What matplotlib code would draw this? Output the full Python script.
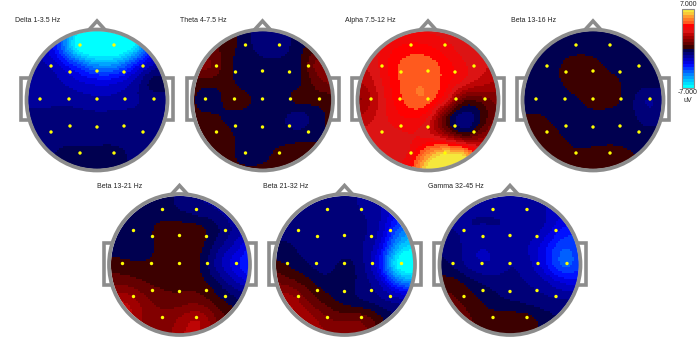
import matplotlib
matplotlib.use('Agg')
import matplotlib.pyplot as plt
from matplotlib.colors import ListedColormap, BoundaryNorm
from matplotlib.patches import Circle, Polygon, Rectangle
import numpy as np

plt.rcParams['font.family'] = ['Liberation Sans', 'DejaVu Sans']

W, H = 700, 346
GRAY = '#8c8c8c'

titles = ['Delta 1-3.5 Hz', 'Theta 4-7.5 Hz', 'Alpha 7.5-12 Hz', 'Beta 13-16 Hz',
          'Beta 13-21 Hz', 'Beta 21-32 Hz', 'Gamma 32-45 Hz']

# electrode sites, px from head centre
elec_x = [-17, 17, -46, -27, 0, 27, 46, -57, -28, 0, 28, 57, -46, -27, 0, 27, 46, -17, 17]
elec_y = [-54, -54, -33, -27, -28, -27, -33, 0, 0, 0, 0, 0, 33, 27, 28, 27, 33, 54, 54]

# scalp values (uV) read on a 9x9 lattice, top row first
delta = [[-1.5, -2.0, -3.5, -6.2, -8.0, -8.0, -7.5, -5.0, -2.2],
         [-1.5, -2.0, -3.8, -7.2, -8.0, -8.0, -6.6, -3.6, -1.5],
         [-1.3, -1.5, -2.4, -3.8, -5.0, -4.9, -3.4, -1.8, -1.0],
         [-1.2, -1.2, -1.6, -2.1, -2.4, -2.3, -1.6, -0.4, -0.3],
         [-1.2, -1.2, -1.2, -1.3, -1.5, -1.4, -1.2, -0.9, -0.9],
         [-0.9, -0.9, -0.9, -0.9, -0.9, -0.9, -0.9, -0.9, -0.9],
         [-0.8, -0.8, -0.8, -0.8, -0.8, -0.8, -0.8, -0.8, -0.8],
         [-0.8, -0.8, -0.4, -0.3, -0.3, -0.3, -0.7, -0.9, -0.9],
         [-0.6, -0.6, -0.3, -0.3, -0.3, -0.3, -0.6, -0.9, -0.9]]
theta = [[0.5, 0.5, 0.3, -0.3, -1.0, -0.9, -0.2, 0.3, 0.5],
         [0.7, 0.6, 0.3, -0.3, -0.8, -0.8, -0.2, 0.4, 1.2],
         [1.2, 1.2, 0.2, -0.3, -0.4, -0.4, -0.1, 1.3, 1.5],
         [0.4, 0.3, 0.2, -0.3, -0.3, -0.3, -0.1, 0.8, 1.3],
         [0.2, -0.5, 0.2, 0.2, -0.3, -0.2, 0.2, 0.2, 0.2],
         [0.2, 0.2, -0.1, -0.3, -0.3, -0.4, -0.9, -0.2, 0.2],
         [0.2, 0.2, 0.2, -0.3, -0.3, -0.3, -0.2, -0.1, 0.2],
         [0.2, 0.2, 0.2, -0.3, -0.2, 0.2, 0.2, 0.2, 0.2],
         [0.2, 0.2, 0.2, 0.2, 0.2, 0.2, 0.2, 0.2, 0.2]]
alpha = [[3.0, 3.0, 3.0, 3.2, 3.1, 2.9, 2.8, 2.6, 2.4],
         [2.9, 3.0, 3.6, 3.9, 3.8, 3.4, 2.9, 2.6, 2.4],
         [2.6, 3.0, 4.0, 4.6, 4.6, 4.0, 3.3, 2.8, 2.5],
         [2.0, 2.7, 3.9, 4.7, 4.7, 4.0, 3.1, 2.4, 2.1],
         [1.4, 2.4, 3.7, 4.6, 4.6, 3.1, 0.7, 0.8, 1.3],
         [2.2, 2.7, 3.4, 3.8, 3.2, 0.5, -0.9, 0.1, 1.5],
         [2.8, 2.9, 3.0, 3.2, 3.0, 2.0, 0.6, 1.4, 2.2],
         [2.9, 2.6, 2.9, 3.4, 5.4, 6.6, 6.2, 3.4, 2.8],
         [3.0, 3.0, 3.2, 4.2, 7.0, 7.5, 7.0, 4.2, 3.0]]
beta1316 = [[-0.3, -0.3, -0.3, -0.3, -0.3, -0.3, -0.3, -0.3, -0.3],
            [-0.3, -0.3, -0.3, -0.3, -0.3, -0.3, -0.3, -0.3, -0.3],
            [-0.3, -0.3, -0.1, 0.3, 0.2, -0.2, -0.3, -0.3, -0.3],
            [-0.3, -0.3, -0.1, 0.3, 0.3, 0.2, -0.2, -0.3, -0.3],
            [-0.3, -0.3, -0.3, -0.1, 0.3, 0.2, -0.3, -1.1, -0.8],
            [0.1, 0.1, -0.2, -0.3, -0.3, -0.3, -0.3, -0.8, -0.6],
            [0.3, 0.3, 0.1, -0.2, -0.3, -0.3, -0.3, -0.3, -0.3],
            [0.3, 0.3, 0.3, 0.1, 0.2, 0.3, 0.1, -0.3, -0.3],
            [0.3, 0.3, 0.3, 0.3, 0.3, 0.3, 0.3, 0.1, -0.3]]
beta1321 = [[-0.5, -0.5, -0.4, -0.4, -0.6, -1.0, -1.4, -1.8, -2.2],
            [-0.4, -0.4, -0.4, -0.4, -0.5, -0.8, -1.0, -1.6, -2.2],
            [-0.4, -0.4, -0.3, 0.3, 0.3, 0.2, -0.4, -1.2, -2.0],
            [-0.3, -0.3, -0.3, 0.2, 0.3, 0.2, -0.8, -1.8, -2.8],
            [0.3, 0.2, 0.1, 0.3, 0.4, 0.1, -1.2, -2.4, -3.3],
            [0.9, 0.9, 0.6, 0.4, 0.4, 0.3, -0.4, -1.4, -2.2],
            [1.9, 2.1, 1.3, 0.9, 0.8, 0.9, 0.3, -0.3, -0.8],
            [2.0, 2.3, 1.5, 1.2, 1.7, 2.1, 1.1, 0.3, -0.2],
            [1.6, 1.6, 1.2, 1.2, 2.0, 2.2, 1.3, 0.6, 0.1]]
beta2132 = [[-0.9, -0.9, -0.9, -0.9, -1.0, -1.2, -1.8, -2.3, -2.6],
            [-0.8, -0.9, -0.9, -0.9, -1.0, -1.1, -1.6, -2.6, -3.2],
            [-0.6, -0.7, -0.9, -0.9, -0.9, -1.0, -1.8, -3.9, -4.7],
            [-0.4, -0.5, -0.8, -0.9, -0.9, -1.1, -2.4, -5.4, -6.2],
            [0.3, -0.1, -0.5, -0.8, -0.3, -1.0, -3.0, -6.9, -7.2],
            [1.1, 0.8, 0.2, -0.3, -0.3, -0.8, -1.8, -3.9, -4.6],
            [1.9, 2.0, 1.0, 0.3, -0.2, -0.5, -0.9, -1.3, -1.6],
            [2.1, 2.3, 1.9, 1.2, 0.9, 0.9, 0.1, -0.6, -0.8],
            [2.1, 2.3, 2.1, 1.7, 1.7, 1.3, 0.5, -0.3, -0.6]]
gamma = [[-1.1, -1.1, -1.1, -1.1, -1.1, -1.3, -1.7, -2.0, -2.3],
         [-1.1, -1.1, -1.1, -1.1, -1.1, -1.2, -1.6, -2.1, -2.5],
         [-1.0, -1.1, -1.1, -1.1, -1.1, -1.2, -1.8, -2.8, -3.0],
         [-0.6, -0.9, -1.5, -1.5, -1.1, -1.6, -2.6, -3.7, -3.2],
         [-0.3, -0.7, -1.4, -1.5, -1.1, -1.4, -2.6, -3.9, -3.2],
         [0.3, 0.2, -0.4, -0.7, -0.9, -1.1, -1.5, -2.2, -2.3],
         [0.8, 0.6, 0.2, -0.3, -0.5, -0.7, -0.9, -1.0, -1.1],
         [1.3, 0.9, 0.5, 0.3, 0.3, 0.2, -0.3, -0.6, -0.7],
         [1.2, 1.0, 0.5, 0.4, 0.3, 0.2, -0.3, -0.6, -0.7]]
panels = [delta, theta, alpha, beta1316, beta1321, beta2132, gamma]

centres = [(97, 99), (262.5, 99), (428, 99), (593, 99),
           (179.5, 263.5), (344.5, 263.5), (510, 263.5)]
title_x = [15, 180.5, 345, 511, 97, 263, 428]
title_y = [21, 21, 21, 21, 186, 186, 186]

lattice = np.arange(-72, 73, 18)
band_colors = ['#00ffff', '#00e0ff', '#00c4ff', '#00a4ff', '#0084ff', '#0060ff', '#0038ff',
               '#0010ff', '#0000e0', '#0000c0', '#00009a', '#000078', '#000050',
               '#3c0000', '#640000', '#820000', '#a00000', '#be0505', '#dc1414',
               '#f00808', '#ff0000', '#ff5a1e', '#ff7a28', '#ff9c30', '#f8c838', '#f5e83c']
band_edges = np.linspace(-7, 7, len(band_colors) + 1)
cmap = ListedColormap(band_colors)
norm = BoundaryNorm(band_edges, cmap.N)


def smooth(values, gx, gy):
    # thin plate spline through the lattice values
    lx, ly = np.meshgrid(lattice, lattice)
    px, py, v = lx.ravel() / 72.0, ly.ravel() / 72.0, np.array(values, float).ravel()
    def kernel(a):
        return np.where(a > 0, a ** 2 * np.log(a + 1e-12), 0)
    d = np.hypot(px[:, None] - px[None, :], py[:, None] - py[None, :])
    A = kernel(d) + np.eye(len(v)) * 1e-3
    P = np.column_stack([np.ones_like(px), px, py])
    M = np.block([[A, P], [P.T, np.zeros((3, 3))]])
    w = np.linalg.solve(M, np.concatenate([v, np.zeros(3)]))
    qx, qy = gx.ravel() / 72.0, gy.ravel() / 72.0
    dq = np.hypot(qx[:, None] - px[None, :], qy[:, None] - py[None, :])
    out = kernel(dq) @ w[:len(v)] + w[len(v)] + w[len(v) + 1] * qx + w[len(v) + 2] * qy
    return out.reshape(gx.shape)


fig = plt.figure(figsize=(W / 100, H / 100), dpi=100)
ax = fig.add_axes([0, 0, 1, 1])
ax.set_xlim(0, W)
ax.set_ylim(H, 0)
ax.axis('off')

R = 69
edge = np.arange(-72, 73, 2)
mid = (edge[:-1] + edge[1:]) / 2
gx, gy = np.meshgrid(mid, mid)

for vals, (cx, cy), name, tx, ty in zip(panels, centres, titles, title_x, title_y):
    hy = cy + 1
    # ears
    ax.add_patch(Rectangle((cx - 76, cy - 21), 11, 42, fc='white', ec=GRAY, lw=2.6, zorder=1))
    ax.add_patch(Rectangle((cx + 65, cy - 21), 11, 42, fc='white', ec=GRAY, lw=2.6, zorder=1))
    # nose
    ax.add_patch(Polygon([(cx - 10, hy - 68), (cx, hy - 79), (cx + 10, hy - 68)], closed=True,
                         fc='white', ec=GRAY, lw=2.6, joinstyle='miter', zorder=1))
    ax.add_patch(Circle((cx, hy), R + 1, fc='white', ec='none', zorder=2))
    m = ax.pcolormesh(edge + cx, edge + hy, smooth(vals, gx, gy), cmap=cmap, norm=norm,
                      shading='flat', antialiased=False, zorder=3)
    m.set_clip_path(Circle((cx, hy), R, transform=ax.transData))
    ax.add_patch(Circle((cx, hy), R + 1.5, fc='none', ec=GRAY, lw=2.7, zorder=4))
    ax.scatter(np.array(elec_x) + cx, np.array(elec_y) + cy, s=6, c='#ffff00', ec='none', zorder=5)
    ax.text(tx, ty, name, fontsize=5, va='center', ha='left', color='#222222')

# colour bar
bar_vals = (band_edges[:-1] + band_edges[1:]) / 2
ax.pcolormesh([682, 694], np.linspace(88, 9, len(band_colors) + 1), bar_vals.reshape(-1, 1),
              cmap=cmap, norm=norm, antialiased=False, zorder=3)
ax.add_patch(Rectangle((682, 9), 12, 79, fc='none', ec=GRAY, lw=0.8, zorder=4))
ax.text(688, 4, '7.000', fontsize=5, ha='center', va='center', color='#222222')
ax.text(688, 93, '-7.000', fontsize=5, ha='center', va='center', color='#222222')
ax.text(688, 101, 'uV', fontsize=5, ha='center', va='center', color='#222222')

fig.savefig('out.png', dpi=100)
